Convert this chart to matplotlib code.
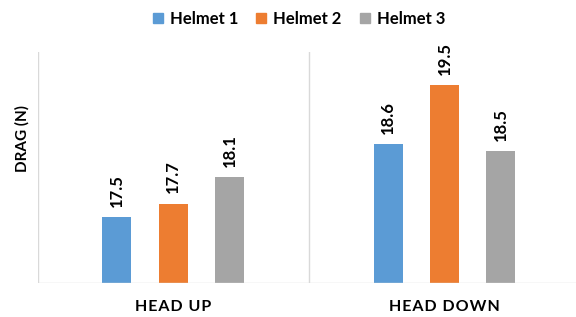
import matplotlib
matplotlib.use("Agg")
import matplotlib.pyplot as plt
from matplotlib.patches import Patch
import numpy as np

categories = ["HEAD UP", "HEAD DOWN"]
series_names = ["Helmet 1", "Helmet 2", "Helmet 3"]
helmet1 = [17.5, 18.6]
helmet2 = [17.7, 19.5]
helmet3 = [18.1, 18.5]
values = [helmet1, helmet2, helmet3]
colors = ["#5B9BD5", "#ED7D31", "#A5A5A5"]

plt.rcParams['font.family'] = ['Lato', 'DejaVu Sans']

fig = plt.figure(figsize=(5.76, 3.17), dpi=100)
ax = fig.add_axes([37.5/576, 1-283/317, 542.5/576, (283-52)/317])

x = np.arange(len(categories))
offsets = [-0.207, 0.0, 0.208]
width = 0.107
for vals, off, col, name in zip(values, offsets, colors, series_names):
    bars = ax.bar(x + off, vals, width=width, color=col, label=name, zorder=3)
    for b, v in zip(bars, vals):
        ax.annotate(f"{v:.1f}", (b.get_x() + b.get_width()/2, v),
                    xytext=(0, 7.5), textcoords="offset points",
                    rotation=90, ha="center", va="bottom",
                    fontsize=12, fontweight="bold", color="#000000")

ax.set_ylim(16.5, 20.0)
ax.set_xlim(-0.5, len(categories) - 0.5)
for s in ax.spines.values():
    s.set_visible(False)
for xv in np.arange(-0.5, len(categories), 1.0):
    ax.axvline(xv, color="#D9D9D9", lw=1.0, zorder=1)
ax.axhline(16.5, color="#D9D9D9", lw=1.0, zorder=4)
ax.set_yticks([])
ax.set_xticks(x)
spaced = ["\u200a".join(c) for c in categories]
ax.set_xticklabels(spaced, fontsize=11.5, fontweight="bold", color="#000000")
ax.tick_params(axis="x", length=0, pad=12)

fig.text(22.5/576, 1-138/317, "DRAG (N)", rotation=90, ha="center", va="center",
         fontsize=11, fontweight="bold", color="#000000")

handles = [Patch(color=c, label=n) for c, n in zip(colors, series_names)]
fig.legend(handles=handles, loc="center", bbox_to_anchor=(299/576, 1-19/317), ncol=3,
           frameon=False, prop={"size": 12, "weight": "bold"},
           handlelength=0.6, handleheight=0.6, handletextpad=0.4, columnspacing=1.1)

fig.savefig("out.png", dpi=100)
